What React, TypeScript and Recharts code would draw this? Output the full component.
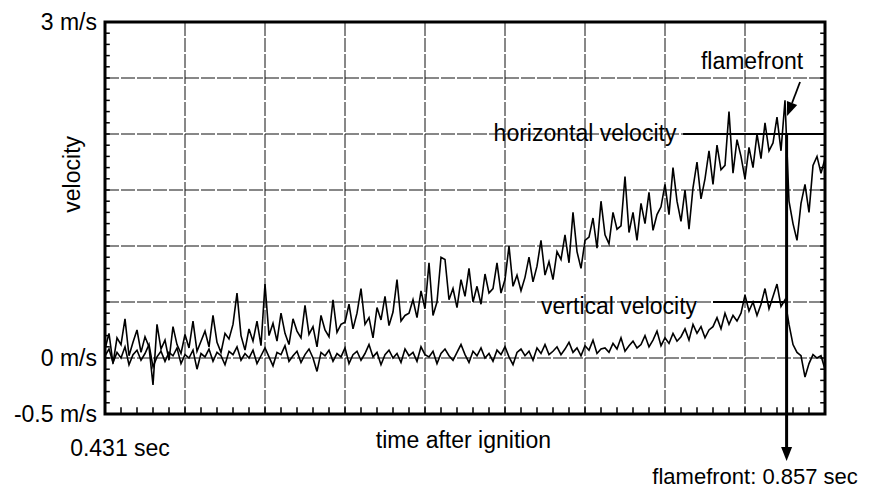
import React from 'react';
import {
	LineChart,
	Line,
	XAxis,
	YAxis,
	CartesianGrid,
	ReferenceLine,
	ReferenceArea,
	ReferenceDot,
} from 'recharts';

// sampling of the trace: one reading every 2.5 ms from ignition + 0.431 s
const T_START = 0.431;
const T_STEP = 0.0025;
const T_END = 0.881;
const FLAMEFRONT_T = 0.857;

// horizontal velocity, m/s
const horizontalVel = [
	0.08, 0.22, -0.05, 0.18, 0.12, 0.35, 0.02, 0.14, 0.25, 0.05, 0.19, 0.1, -0.24, 0.3, 0.08, 0.16,
	-0.02, 0.28, 0.12, 0.04, 0.21, 0.09, 0.33, 0.06, 0.15,
	0.24, 0.1, 0.38, 0.14, 0.05, 0.22, 0.17, 0.3, 0.58, 0.2, 0.07, 0.26, 0.15, 0.33, 0.11, 0.66,
	0.2, 0.31, 0.15, 0.4, 0.22, 0.12, 0.35, 0.24, 0.18, 0.47, 0.21, 0.28, 0.1, 0.38, 0.25, 0.19,
	0.52, 0.23, 0.3,
	0.32, 0.48, 0.26, 0.4, 0.62, 0.3, 0.36, 0.18, 0.45, 0.34, 0.55, 0.29, 0.41, 0.7, 0.33, 0.38,
	0.4, 0.52, 0.36, 0.6, 0.44, 0.85, 0.38, 0.5, 0.9,
	0.88, 0.52, 0.62, 0.45, 0.7, 0.55, 0.8, 0.5, 0.64, 0.48, 0.75, 0.58,
	0.62, 0.85, 0.58, 0.7, 1.0, 0.64, 0.74, 0.6,
	0.72, 0.9, 0.68, 0.82, 1.05, 0.74, 0.86, 0.7, 0.95,
	0.88, 1.1, 0.85, 1.3, 0.95, 0.8, 1.05,
	1.08, 1.25, 0.98, 1.4, 1.1, 1.02, 1.3, 1.15,
	1.18, 1.62, 1.12, 1.3, 1.05, 1.38, 1.2, 1.48, 1.14, 1.28,
	1.35, 1.55, 1.28, 1.7, 1.4, 1.22, 1.5, 1.15,
	1.52, 1.75, 1.42,
	1.6, 1.85, 1.55, 1.9, 1.68,
	1.72, 2.2, 1.65, 1.95, 1.8, 1.6,
	1.88, 1.7, 2.0, 1.78, 2.1, 1.85,
	1.92, 2.15, 1.85, 2.3,
	1.4, 1.2, 1.05, 1.38, 1.55, 1.3, 1.72, 1.8, 1.65, 1.78,
];

// vertical velocity, m/s
const verticalVel = [
	0.02, 0.08, -0.04, 0.05, 0.0, 0.1, -0.06, 0.03, 0.07, -0.02, 0.04, 0.12, -0.08, 0.01, 0.06, -0.03,
	0.05, 0.02, 0.09, -0.05, 0.03, 0.0, 0.07, -0.1, 0.04, 0.01, 0.08, -0.03, 0.05, 0.02, -0.06, 0.06,
	0.03, 0.1, -0.02, 0.04, 0.0, 0.07, -0.05, 0.02, 0.09, 0.01, -0.07, 0.05, 0.03, 0.11, -0.03, 0.02,
	0.06, -0.04, 0.03, 0.08, 0.0, -0.12, 0.05, 0.02, 0.07, -0.03, 0.04, 0.01, 0.09, -0.05, 0.03, 0.06,
	-0.02, 0.04, 0.12, 0.01, 0.05, -0.06, 0.03, 0.07, 0.0, 0.04, -0.04, 0.08, 0.02, 0.05, -0.03, 0.1,
	0.03, 0.01, 0.06, -0.05, 0.04, 0.08, 0.02, -0.02, 0.05, 0.12, 0.03, -0.04, 0.06, 0.02, 0.09, 0.0,
	0.04, -0.03, 0.07, 0.03, 0.1, 0.01, -0.06, 0.05, 0.08, 0.02, 0.06, -0.02, 0.09, 0.04, 0.12, 0.03,
	0.06, 0.1, 0.03, 0.08, 0.14, 0.05, 0.09, 0.02, 0.11, 0.07, 0.16, 0.04, 0.08,
	0.09, 0.05, 0.13, 0.08, 0.18, 0.06, 0.11, 0.15, 0.09,
	0.12, 0.2, 0.1, 0.16, 0.24, 0.11, 0.18, 0.13, 0.22, 0.15,
	0.19, 0.26, 0.16, 0.3, 0.22, 0.28, 0.18, 0.25,
	0.28, 0.36, 0.26, 0.4, 0.3, 0.38, 0.33,
	0.4, 0.56, 0.42, 0.5, 0.38,
	0.48, 0.62, 0.44, 0.55, 0.66, 0.46, 0.52,
	0.3, 0.12, 0.05, 0.02, -0.17, -0.05, 0.03, 0.0, 0.02, -0.1,
];

const xGridTicks = [0.431, 0.481, 0.531, 0.581, 0.631, 0.681, 0.731, 0.781, 0.831, 0.881];
const yGridTicks = [-0.5, 0, 0.5, 1, 1.5, 2, 2.5, 3];
const yLabelValues = [3, 0, -0.5];
const yLabelTexts = ['3 m/s', '0 m/s', '-0.5 m/s'];

const data = horizontalVel.map((h, i) => ({
	t: +(T_START + i * T_STEP).toFixed(4),
	h,
	v: verticalVel[i],
}));

// small inward ticks: every 0.01 s on the time axis, every 0.1 m/s on the sides
const minorX: number[] = [];
for (let k = 1; k < 45; k++) minorX.push(+(T_START + k * 0.01).toFixed(3));
const minorY: number[] = [];
for (let k = 1; k < 35; k++) minorY.push(+(-0.5 + k * 0.1).toFixed(2));

const FONT = 23;

const ArrowLine = (props: any) => {
	const {x1, y1, x2, y2, strokeWidth} = props;
	const ang = Math.atan2(y2 - y1, x2 - x1);
	const len = 14;
	const w = 5.5;
	const bx = x2 - len * Math.cos(ang);
	const by = y2 - len * Math.sin(ang);
	const px = -Math.sin(ang) * w;
	const py = Math.cos(ang) * w;
	return (
		<g>
			<line x1={x1} y1={y1} x2={bx} y2={by} stroke="#000" strokeWidth={strokeWidth} />
			<polygon
				points={`${x2},${y2} ${bx + px},${by + py} ${bx - px},${by - py}`}
				fill="#000"
			/>
		</g>
	);
};

const TimeTick = (props: any) => {
	const {x, y, payload} = props;
	if (payload.value !== T_START) return <g />;
	return (
		<text x={x + 15} y={y} dy={34} textAnchor="middle" fill="#000" fontSize={FONT}>
			0.431 sec
		</text>
	);
};

const textLabel = (value: string, extra: object = {}) => ({
	value,
	position: 'center' as const,
	fill: '#000',
	fontSize: FONT,
	...extra,
});

export default function App() {
	return (
		<div
			style={{
				position: 'absolute',
				left: 0,
				top: 0,
				width: 874,
				height: 490,
				background: '#fff',
				fontFamily: '"Liberation Sans", Arial, sans-serif',
			}}
		>
			<LineChart
				width={874}
				height={490}
				data={data}
				margin={{top: 22, right: 49, bottom: 36, left: 0}}
			>
				<CartesianGrid stroke="#111" strokeWidth={1} strokeDasharray="14 2" />
				<XAxis
					dataKey="t"
					type="number"
					domain={[T_START, T_END]}
					ticks={xGridTicks}
					allowDataOverflow
					height={40}
					axisLine={false}
					tickLine={false}
					tick={<TimeTick />}
					interval={0}
				/>
				<YAxis
					type="number"
					domain={[-0.5, 3]}
					ticks={yGridTicks}
					allowDataOverflow
					width={105}
					axisLine={false}
					tickLine={false}
					interval={0}
					tick={{fill: '#000', fontSize: FONT}}
					tickFormatter={(v: number) => {
						const k = yLabelValues.indexOf(v);
						return k >= 0 ? yLabelTexts[k] : '';
					}}
				/>
				<Line
					dataKey="h"
					type="linear"
					stroke="#000"
					strokeWidth={1.6}
					dot={false}
					isAnimationActive={false}
				/>
				<Line
					dataKey="v"
					type="linear"
					stroke="#000"
					strokeWidth={1.6}
					dot={false}
					isAnimationActive={false}
				/>

				<ReferenceArea
					x1={T_START}
					x2={T_END}
					y1={-0.5}
					y2={3}
					fill="none"
					stroke="#000"
					strokeWidth={3}
				/>
				{minorX.map((t) => (
					<ReferenceLine
						key={'mx' + t}
						segment={[
							{x: t, y: -0.5},
							{x: t, y: -0.44},
						]}
						stroke="#000"
						strokeWidth={1.5}
					/>
				))}
				{minorY.map((v) => (
					<ReferenceLine
						key={'ml' + v}
						segment={[
							{x: T_START, y: v},
							{x: T_START + 0.003, y: v},
						]}
						stroke="#000"
						strokeWidth={1.5}
					/>
				))}
				{minorY.map((v) => (
					<ReferenceLine
						key={'mr' + v}
						segment={[
							{x: T_END - 0.003, y: v},
							{x: T_END, y: v},
						]}
						stroke="#000"
						strokeWidth={1.5}
					/>
				))}

				{/* series labels with their leader lines */}
				<ReferenceLine
					segment={[
						{x: 0.7923, y: 2},
						{x: T_END, y: 2},
					]}
					stroke="#000"
					strokeWidth={1.8}
				/>
				<ReferenceLine
					segment={[
						{x: 0.811, y: 0.5},
						{x: FLAMEFRONT_T, y: 0.5},
					]}
					stroke="#000"
					strokeWidth={1.8}
				/>
				<ReferenceDot x={0.731} y={2.01} r={0} stroke="none" fill="none" label={textLabel('horizontal velocity')} />
				<ReferenceDot x={0.7523} y={0.464} r={0} stroke="none" fill="none" label={textLabel('vertical velocity')} />

				{/* flamefront markers */}
				<ReferenceLine
					segment={[
						{x: 0.8654, y: 2.464},
						{x: 0.8573, y: 2.16},
					]}
					stroke="#000"
					strokeWidth={1.8}
					shape={ArrowLine}
				/>
				<ReferenceLine
					segment={[
						{x: FLAMEFRONT_T, y: 2.0},
						{x: FLAMEFRONT_T, y: -0.92},
					]}
					ifOverflow="visible"
					stroke="#000"
					strokeWidth={3}
					shape={ArrowLine}
				/>
				<ReferenceDot x={0.8354} y={2.652} r={0} stroke="none" fill="none" label={textLabel('flamefront')} />
				<ReferenceDot
					x={0.8373}
					y={-1.055}
					r={0}
					stroke="none"
					fill="none"
					ifOverflow="visible"
					label={textLabel('flamefront: 0.857 sec', {fontSize: 22})}
				/>

				{/* axis titles */}
				<ReferenceDot
					x={0.655}
					y={-0.73}
					r={0}
					stroke="none"
					fill="none"
					ifOverflow="visible"
					label={textLabel('time after ignition')}
				/>
				<ReferenceDot
					x={0.4104}
					y={1.64}
					r={0}
					stroke="none"
					fill="none"
					ifOverflow="visible"
					label={textLabel('velocity', {angle: -90})}
				/>
			</LineChart>
		</div>
	);
}
